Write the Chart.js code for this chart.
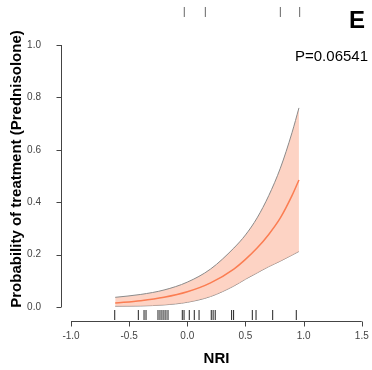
<!DOCTYPE html>
<html>
<head>
<meta charset="utf-8">
<script src="https://cdn.jsdelivr.net/npm/chart.js@4.4.1/dist/chart.umd.min.js"></script>
<style>
  html, body { margin: 0; padding: 0; background: #fff; }
</style>
</head>
<body>
<canvas id="chart" width="372" height="370"></canvas>
<script>
// fitted curve
var nri = [-0.62, -0.4, -0.2, 0.0, 0.2, 0.4, 0.5, 0.6, 0.7, 0.8, 0.9, 0.96];
var prob = [0.015, 0.024, 0.037, 0.058, 0.092, 0.145, 0.182, 0.225, 0.277, 0.34, 0.425, 0.485];
var upper = [0.037, 0.048, 0.065, 0.095, 0.145, 0.225, 0.275, 0.34, 0.425, 0.53, 0.665, 0.76];
var lower = [0.003, 0.004, 0.008, 0.018, 0.04, 0.08, 0.106, 0.13, 0.154, 0.175, 0.198, 0.212];

// rug marks (observed NRI values)
var rugUntreated = [-0.624, -0.421, -0.372, -0.355, -0.252, -0.235, -0.218, -0.201, -0.184, -0.166,
  -0.043, -0.028, 0.017, 0.060, 0.101, 0.206, 0.222, 0.240, 0.381, 0.398, 0.559, 0.591, 0.734, 0.937];
var rugTreated = [-0.026, 0.155, 0.80, 0.966];

var xTicks = [-1.0, -0.5, 0.0, 0.5, 1.0, 1.5];
var yTicks = [0.0, 0.2, 0.4, 0.6, 0.8, 1.0];

function pts(xs, ys) {
  return xs.map(function (x, i) { return { x: x, y: ys[i] }; });
}
function rug(xs, level) {
  return xs.map(function (x) { return { x: x, y: level }; });
}
function noPad(s) {
  s.paddingTop = 0; s.paddingBottom = 0; s.paddingLeft = 0; s.paddingRight = 0;
}

var FONT = '"Liberation Sans", Arial, Helvetica, sans-serif';

// R style axes: line only between first and last tick, ticks pointing out
var axesPlugin = {
  id: 'rAxes',
  afterDraw: function (chart) {
    var ctx = chart.ctx;
    var xs = chart.scales.x, ys = chart.scales.y;
    var yb = chart.chartArea.bottom + 0.5;
    var xl = chart.chartArea.left + 0.5;
    ctx.save();
    ctx.strokeStyle = '#444';
    ctx.lineWidth = 1;
    ctx.beginPath();
    ctx.moveTo(xs.getPixelForValue(xTicks[0]), yb);
    ctx.lineTo(xs.getPixelForValue(xTicks[xTicks.length - 1]), yb);
    xTicks.forEach(function (v) {
      var p = Math.round(xs.getPixelForValue(v)) + 0.5;
      ctx.moveTo(p, yb);
      ctx.lineTo(p, yb + 5);
    });
    ctx.moveTo(xl, ys.getPixelForValue(yTicks[0]));
    ctx.lineTo(xl, ys.getPixelForValue(yTicks[yTicks.length - 1]));
    yTicks.forEach(function (v) {
      var p = Math.round(ys.getPixelForValue(v)) + 0.5;
      ctx.moveTo(xl, p);
      ctx.lineTo(xl - 5, p);
    });
    ctx.stroke();

    // y title, panel letter and p value
    ctx.fillStyle = '#000';
    ctx.font = 'bold 15px ' + FONT;
    ctx.textAlign = 'center';
    ctx.textBaseline = 'middle';
    ctx.save();
    ctx.translate(17, 169);
    ctx.rotate(-Math.PI / 2);
    ctx.fillText('Probability of treatment (Prednisolone)', 0, 0);
    ctx.restore();

    ctx.textBaseline = 'alphabetic';
    ctx.textAlign = 'left';
    ctx.font = 'bold 24px ' + FONT;
    ctx.fillText('E', 349, 28);
    ctx.textAlign = 'right';
    ctx.font = '15px ' + FONT;
    ctx.fillText('P=0.06541', 368, 61);
    ctx.restore();
  }
};

new Chart(document.getElementById('chart'), {
  type: 'scatter',
  data: {
    datasets: [
      {
        label: 'upper',
        data: pts(nri, upper),
        showLine: true,
        borderColor: '#8a8a8a',
        borderWidth: 1,
        backgroundColor: 'rgba(252, 196, 176, 0.75)',
        fill: 1,
        pointRadius: 0,
        cubicInterpolationMode: 'monotone',
        order: 3
      },
      {
        label: 'lower',
        data: pts(nri, lower),
        showLine: true,
        borderColor: '#8a8a8a',
        borderWidth: 1,
        fill: false,
        pointRadius: 0,
        cubicInterpolationMode: 'monotone',
        order: 3
      },
      {
        label: 'prob',
        data: pts(nri, prob),
        showLine: true,
        borderColor: '#fb7d52',
        borderWidth: 1.5,
        fill: false,
        pointRadius: 0,
        cubicInterpolationMode: 'monotone',
        order: 1
      },
      {
        label: 'untreated',
        data: rug(rugUntreated, -0.0305),
        pointStyle: 'line',
        rotation: 90,
        pointRadius: 5,
        borderColor: '#222',
        borderWidth: 1,
        order: 2
      },
      {
        label: 'treated',
        data: rug(rugTreated, 1.126),
        pointStyle: 'line',
        rotation: 90,
        pointRadius: 5,
        borderColor: '#666',
        borderWidth: 1,
        order: 2
      }
    ]
  },
  options: {
    responsive: false,
    animation: false,
    layout: { padding: 0, autoPadding: false },
    plugins: {
      legend: { display: false },
      tooltip: { enabled: false }
    },
    scales: {
      x: {
        type: 'linear',
        min: -1.086,
        max: 1.588,
        // invisible tick marks just to push the labels down (real axis drawn by plugin)
        grid: { display: true, drawOnChartArea: false, drawTicks: true, tickLength: 9, color: 'rgba(0,0,0,0)' },
        border: { display: false },
        afterBuildTicks: function (s) { s.ticks = xTicks.map(function (v) { return { value: v }; }); },
        afterFit: function (s) { s.height = 49; noPad(s); },
        ticks: {
          padding: 0,
          color: '#444',
          font: { family: FONT, size: 10 },
          maxRotation: 0,
          callback: function (v) { return v.toFixed(1); }
        },
        title: {
          display: true,
          text: 'NRI',
          color: '#000',
          font: { family: FONT, size: 15, weight: 'bold' },
          padding: { top: 0, bottom: 2 }
        }
      },
      y: {
        min: -0.0534,
        max: 1.1718,
        grid: { display: false },
        border: { display: false },
        afterBuildTicks: function (s) { s.ticks = yTicks.map(function (v) { return { value: v }; }); },
        afterFit: function (s) { s.width = 61; noPad(s); },
        ticks: {
          padding: 12,
          color: '#444',
          font: { family: FONT, size: 10 },
          callback: function (v) { return v.toFixed(1); }
        }
      }
    }
  },
  plugins: [axesPlugin]
});
</script>
</body>
</html>
